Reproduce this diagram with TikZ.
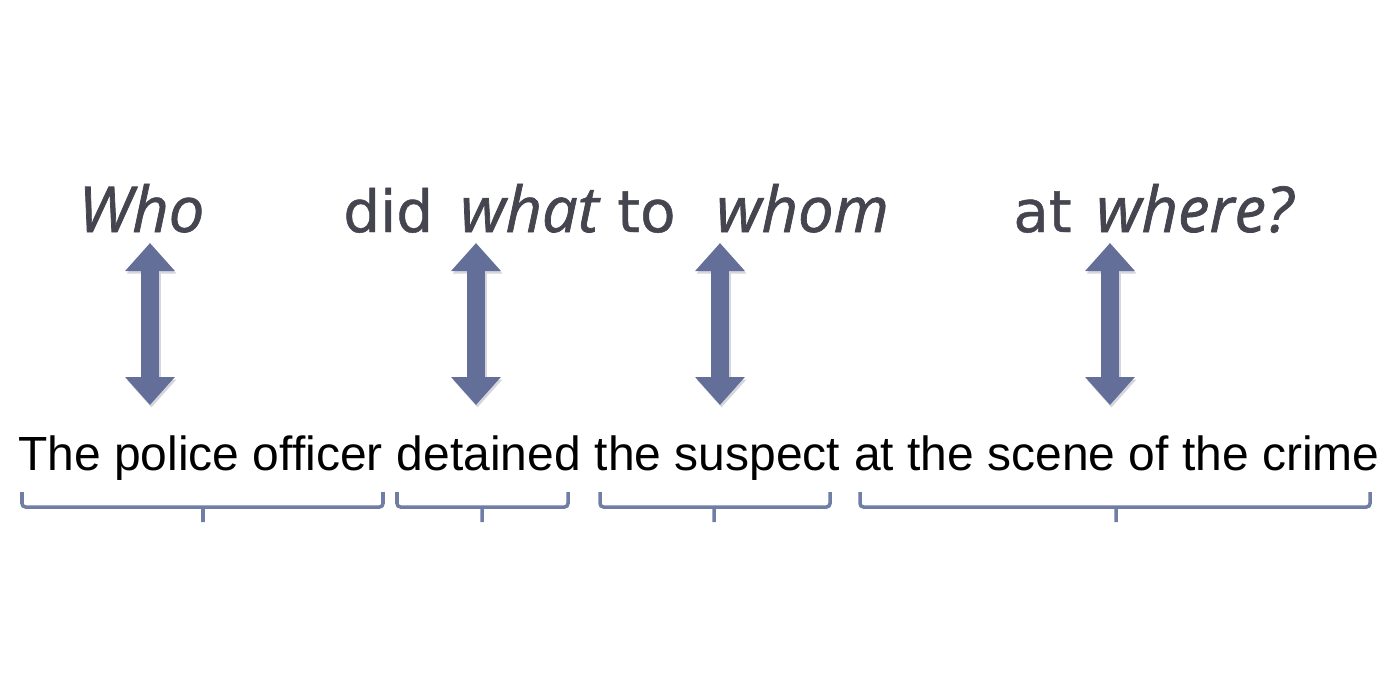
\documentclass[tikz,border=0pt]{standalone}
\usepackage{fontspec}
\setmainfont{Liberation Sans}
\newfontfamily\askfont[FakeBold=0.8]{DejaVu Sans}
\newfontfamily\whfont[ItalicFeatures={FakeBold=1.2}]{Open Sans}
\usetikzlibrary{arrows.meta}
\definecolor{askgray}{RGB}{69,69,79}
\definecolor{arrowblue}{RGB}{99,111,153}
\definecolor{shadowgray}{RGB}{212,214,220}
\definecolor{bracketblue}{RGB}{112,126,166}
\tikzset{
  ask/.style={anchor=base west, inner sep=0, text=askgray, font=\askfont\fontsize{33}{40}\selectfont},
  whword/.style={anchor=base west, inner sep=0, text=askgray, font=\whfont\itshape\fontsize{36}{42}\selectfont},
  phrase/.style={anchor=base west, inner sep=0, font=\fontsize{27.3}{33}\selectfont},
  link/.style={line width=0.36cm, draw=arrowblue, {Triangle[length=0.56cm,width=0.96cm]}-{Triangle[length=0.56cm,width=0.96cm]}},
  linkshadow/.style={link, draw=shadowgray, transform canvas={xshift=0.03cm, yshift=-0.05cm}},
  bracket/.style={draw=bracketblue, line width=2pt, rounded corners=2pt},
}
\begin{document}
\begin{tikzpicture}[x=0.02cm, y=-0.02cm]
\useasboundingbox (0,0) rectangle (1392,698);
% the question
\node[whword] (who) at (78,232) {Who};
\node[ask] (did) at (343,232) {did};
\node[whword] (what) at (460,232) {what};
\node[ask] (to) at (617,232) {to};
\node[whword] (whom) at (716,232) {whom};
\node[ask] (at) at (1013,232) {at};
\node[whword] (where) at (1096,232) {where?};
% the sentence
\node[phrase] (officer) at (18,470) {The police officer};
\node[phrase] (detained) at ([xshift=7.6pt]officer.base east) {detained};
\node[phrase] (suspect) at ([xshift=7.6pt]detained.base east) {the suspect};
\node[phrase] (scene) at ([xshift=7.6pt]suspect.base east) {at the scene of the crime};
% arrow ends
\coordinate (who-a) at (150,243);
\coordinate (officer-a) at (150,405);
\coordinate (what-a) at (476,243);
\coordinate (detained-a) at (476,405);
\coordinate (whom-a) at (720,243);
\coordinate (suspect-a) at (720,405);
\coordinate (where-a) at (1110,243);
\coordinate (scene-a) at (1110,405);
\draw[linkshadow] (who-a) -- (officer-a);
\draw[linkshadow] (what-a) -- (detained-a);
\draw[linkshadow] (whom-a) -- (suspect-a);
\draw[linkshadow] (where-a) -- (scene-a);
\draw[link] (who-a) -- (officer-a);
\draw[link] (what-a) -- (detained-a);
\draw[link] (whom-a) -- (suspect-a);
\draw[link] (where-a) -- (scene-a);
% brackets under the phrases
\draw[bracket] (22,492) |- (203,507) -| (383,492) (203,507) -- (203,522);
\draw[bracket] (397,492) |- (482,507) -| (568,492) (482,507) -- (482,522);
\draw[bracket] (600,492) |- (714,507) -| (830,492) (714,507) -- (714,522);
\draw[bracket] (860,492) |- (1116,507) -| (1370,492) (1116,507) -- (1116,522);
\end{tikzpicture}
\end{document}
